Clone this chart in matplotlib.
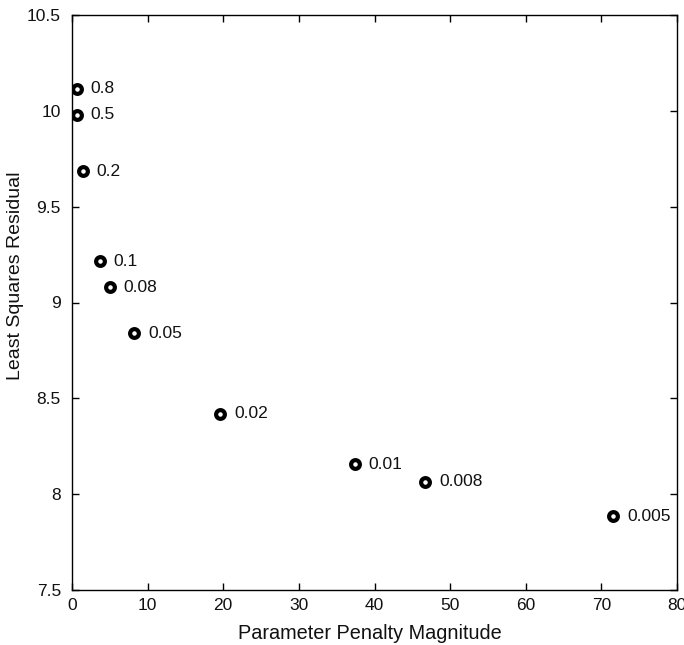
import matplotlib
matplotlib.use("Agg")
import matplotlib.pyplot as plt

penalty = [0.62, 0.62, 1.4, 3.7, 5.0, 8.2, 19.6, 37.4, 46.7, 71.6]
residual = [10.115, 9.98, 9.685, 9.215, 9.08, 8.84, 8.42, 8.157, 8.065, 7.885]
labels = ["0.8", "0.5", "0.2", "0.1", "0.08", "0.05", "0.02", "0.01", "0.008", "0.005"]
xticks = [0, 10, 20, 30, 40, 50, 60, 70, 80]
yticks = [7.5, 8, 8.5, 9, 9.5, 10, 10.5]

plt.rcParams['font.family'] = ['Liberation Sans', 'DejaVu Sans']

fig = plt.figure(figsize=(6.84, 6.45), dpi=100)
ax = fig.add_axes([72/684, 1-590/645, (677-72)/684, (590-15)/645])

ax.plot(penalty, residual, linestyle='none', marker='o', markersize=6.3,
        markeredgewidth=3.0, markeredgecolor='black', markerfacecolor='white')
for x, y, t in zip(penalty, residual, labels):
    ax.annotate(t, (x, y), xytext=(10, 0), textcoords='offset points',
                va='center', ha='left', fontsize=12.5, color='#111111')

ax.set_xlim(0, 80)
ax.set_ylim(7.5, 10.5)
ax.set_xticks(xticks)
ax.set_yticks(yticks)
ax.set_yticklabels([f"{v:g}" for v in yticks])
ax.tick_params(direction='in', top=True, right=True, labelsize=12.5, length=5,
               width=1, labelcolor='#111111')
ax.tick_params(axis='x', pad=6)
ax.tick_params(axis='y', pad=8)
for s in ax.spines.values():
    s.set_linewidth(1)
ax.set_xlabel("Parameter Penalty Magnitude", fontsize=14.3, color='#111111', va='center')
ax.set_ylabel("Least Squares Residual", fontsize=14, color='#111111', va='center')
ax.xaxis.set_label_coords(0.492, -0.0748)
ax.yaxis.set_label_coords(-0.0926, 0.546)

fig.savefig("out.png", dpi=100)
